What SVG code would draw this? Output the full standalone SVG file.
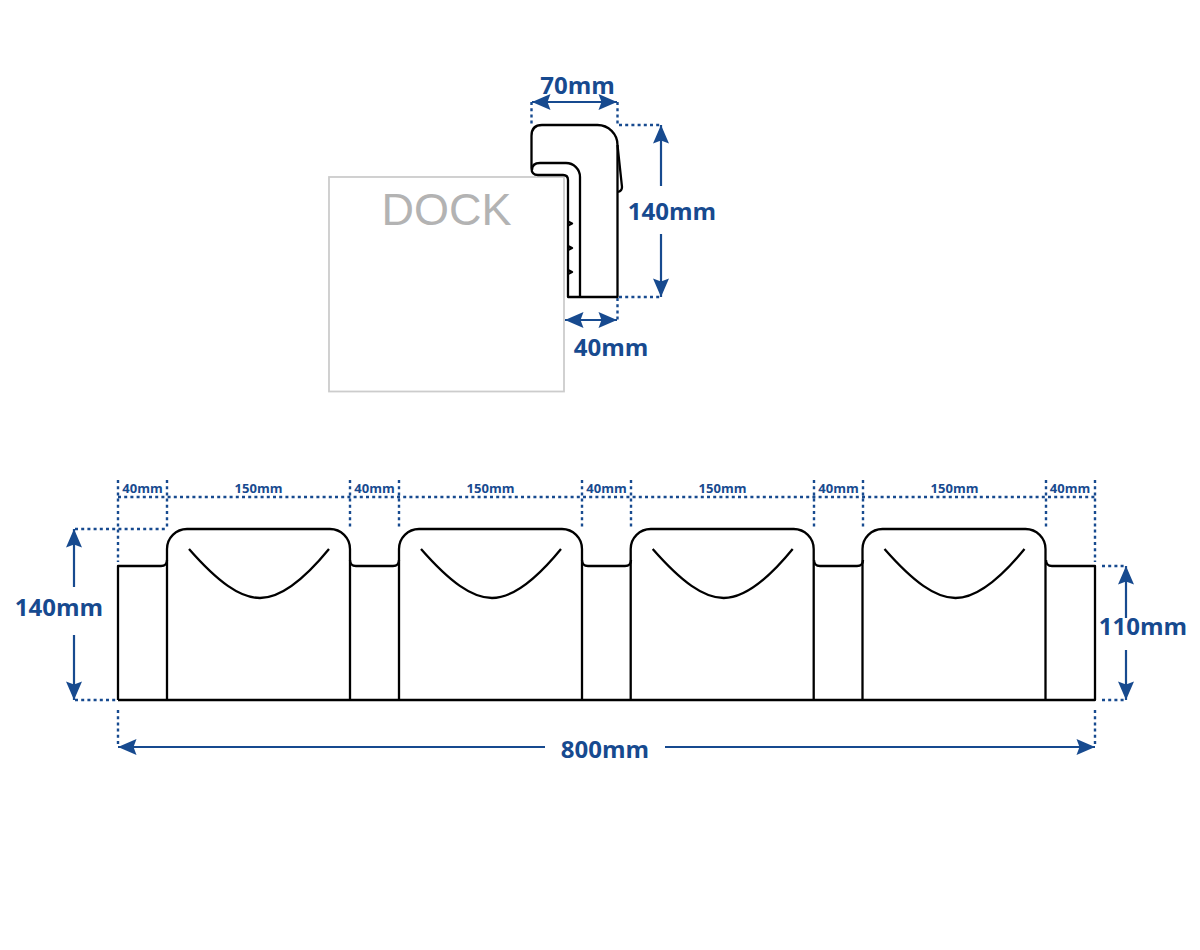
<svg xmlns="http://www.w3.org/2000/svg" width="1200" height="950" viewBox="0 0 1200 950">
<style>
.o{fill:none;stroke:#000;stroke-width:2.300;stroke-linejoin:round}
.d{fill:none;stroke:#174a8f;stroke-width:2.400;stroke-dasharray:3 3.200}
.a{fill:none;stroke:#174a8f;stroke-width:2.200;marker-start:url(#ah);marker-end:url(#ah)}
.a1{fill:none;stroke:#174a8f;stroke-width:2.200;marker-end:url(#ah)}
text{font-family:"Open Sans","Noto Sans",sans-serif;font-weight:700;fill:#174a8f;text-anchor:middle}
.b{font-size:24px}
.s{font-size:13px}
</style>
<defs>
<marker id="ah" viewBox="0 0 20 16" refX="19" refY="8" markerUnits="userSpaceOnUse" markerWidth="20" markerHeight="16" orient="auto-start-reverse">
<path d="M0.500 0L19 8L0.500 16L3.500 8Z" fill="#174a8f"/>
</marker>
<g id="bay">
<path class="o" d="M49 700V549A20 20 0 0 1 69 529H212A20 20 0 0 1 232 549V700"/>
<path class="o" d="M71 549C100 582 122 598 142 598C162 598 184 582 211 549"/>
</g>
</defs>
<g id="dock">
<rect x="329" y="177" width="235" height="214.500" fill="#fff" stroke="#ccc" stroke-width="1.800"/>
<text x="446.500" y="225" style="font-family:'Liberation Sans',Arial,sans-serif;font-weight:400;font-size:45px;fill:#b3b3b3">DOCK</text>
</g>
<g id="side-profile">
<path class="o" d="M568 297H617.500V145A20 20 0 0 0 597.500 125H542Q531.500 125 531.500 136V168Q531.500 175 538 175H563Q568 175 568 180Z"/>
<path class="o" d="M532 170Q532 163 540 163H566A14 14 0 0 1 580 177V297"/>
<path class="o" d="M617.500 145L622 187Q622 191 618 192"/>
<path class="o" stroke-width="1.500" d="M568 221.500L572 223.500L568 225.500M568 246L572 248L568 250M568 270L572 272L568 274"/>
</g>
<g id="front-elevation">
<path class="o" d="M118 700V566H161Q167 566 167 560M118 700H1095V566H1052Q1046 566 1046 560"/>
<use href="#bay" x="118"/>
<use href="#bay" x="350"/>
<use href="#bay" x="581.700"/>
<use href="#bay" x="813.500"/>
<path class="o" d="M350 560Q350 566 356 566H393Q399 566 399 560M582 560Q582 566 588 566H625Q631 566 631 560M814 560Q814 566 820 566H857Q863 566 863 560"/>
</g>
<g id="connectors">
<path class="d" d="M531.500 102V124M617.500 102V124M619 125H661M619 297H661M617.500 298V320M118 480V562M167 480V528M350 480V528M399 480V528M582 480V528M631 480V528M814 480V528M863 480V528M1046 480V528M1095 480V562M118 497H1095M75 529H165M75 700H118M1102 566H1126M1102 700H1126M118 710V746M1095 710V746"/>
<path class="a" d="M532 102H617"/>
<path class="a" d="M565 320H617"/>
<path class="a1" d="M661 186V125"/>
<path class="a1" d="M661 234V297"/>
<path class="a1" d="M74 587V529"/>
<path class="a1" d="M74 635V700"/>
<path class="a1" d="M1126 618V566"/>
<path class="a1" d="M1126 650V700"/>
<path class="a1" d="M545 747H118"/>
<path class="a1" d="M665 747H1095"/>
</g>
<g id="labels">
<text class="b" x="577.500" y="94">70mm</text>
<text class="b" x="672" y="220">140mm</text>
<text class="b" x="611" y="356">40mm</text>
<text class="b" x="59" y="616">140mm</text>
<text class="b" x="1143" y="635">110mm</text>
<text class="b" x="605" y="758">800mm</text>
<text class="s" x="142.500" y="493">40mm</text>
<text class="s" x="258.500" y="493">150mm</text>
<text class="s" x="374.500" y="493">40mm</text>
<text class="s" x="490.500" y="493">150mm</text>
<text class="s" x="606.500" y="493">40mm</text>
<text class="s" x="722.500" y="493">150mm</text>
<text class="s" x="838.500" y="493">40mm</text>
<text class="s" x="954.500" y="493">150mm</text>
<text class="s" x="1070" y="493">40mm</text>
</g>
</svg>
